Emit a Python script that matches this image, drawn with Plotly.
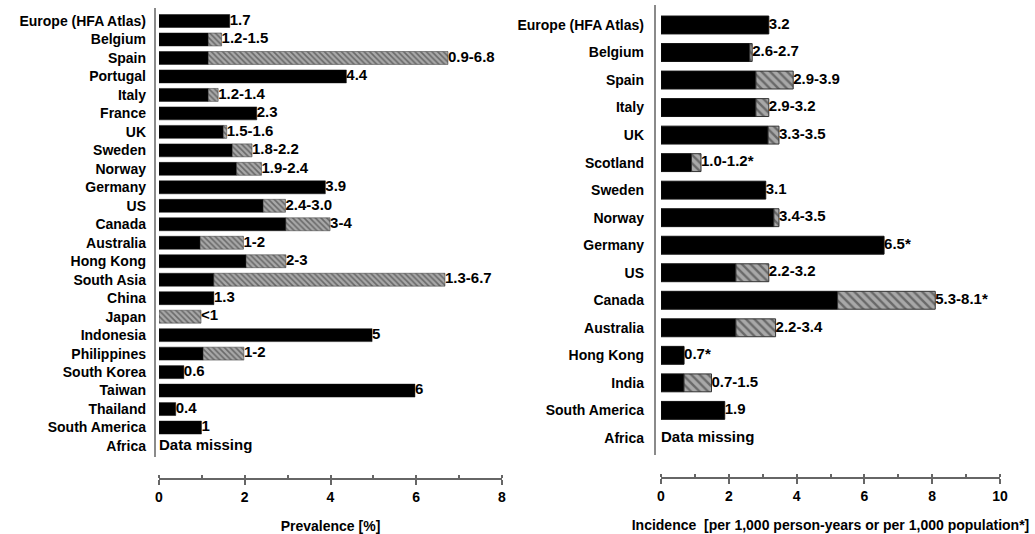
import plotly.graph_objects as go

# ---------------- data ----------------
prev_regions = ["Europe (HFA Atlas)", "Belgium", "Spain", "Portugal", "Italy", "France", "UK",
                "Sweden", "Norway", "Germany", "US", "Canada", "Australia", "Hong Kong",
                "South Asia", "China", "Japan", "Indonesia", "Philippines", "South Korea",
                "Taiwan", "Thailand", "South America", "Africa"]
prev_low = [1.65, 1.15, 1.15, 4.37, 1.15, 2.28, 1.5, 1.71, 1.81, 3.88, 2.43, 2.96, 0.96, 2.03,
            1.28, 1.28, 0.0, 4.97, 1.03, 0.58, 5.97, 0.39, 0.99, None]
prev_high = [1.65, 1.46, 6.74, 4.37, 1.38, 2.28, 1.58, 2.17, 2.39, 3.88, 2.95, 3.99, 1.97, 2.96,
             6.67, 1.28, 0.98, 4.97, 1.98, 0.58, 5.97, 0.39, 0.99, None]
prev_labels = ["1.7", "1.2-1.5", "0.9-6.8", "4.4", "1.2-1.4", "2.3", "1.5-1.6", "1.8-2.2",
               "1.9-2.4", "3.9", "2.4-3.0", "3-4", "1-2", "2-3", "1.3-6.7", "1.3", "<1", "5",
               "1-2", "0.6", "6", "0.4", "1", "Data missing"]

inc_regions = ["Europe (HFA Atlas)", "Belgium", "Spain", "Italy", "UK", "Scotland", "Sweden",
               "Norway", "Germany", "US", "Canada", "Australia", "Hong Kong", "India",
               "South America", "Africa"]
inc_low = [3.18, 2.62, 2.80, 2.80, 3.16, 0.90, 3.09, 3.33, 6.58, 2.21, 5.21, 2.21, 0.68, 0.68,
           1.88, None]
inc_high = [3.18, 2.69, 3.90, 3.18, 3.48, 1.18, 3.09, 3.48, 6.58, 3.18, 8.09, 3.38, 0.68, 1.49,
            1.88, None]
inc_labels = ["3.2", "2.6-2.7", "2.9-3.9", "2.9-3.2", "3.3-3.5", "1.0-1.2*", "3.1", "3.4-3.5",
              "6.5*", "2.2-3.2", "5.3-8.1*", "2.2-3.4", "0.7*", "0.7-1.5", "1.9", "Data missing"]

W, H = 1035, 534
FONT = "Liberation Sans"


def px_x(p):
    return p / W


def px_y(p):
    return 1 - p / H


fig = go.Figure()


def add_panel(regions, low, high, labels, xa, ya, width, psize, line_w):
    idx = list(range(len(regions)))
    lo = [v if (v is not None and v > 0) else None for v in low]
    base = [v if v is not None else 0 for v in low]
    rng = [(h - l) if (h is not None and l is not None and h - l > 0.001) else None
           for l, h in zip(low, high)]
    fig.add_trace(go.Bar(
        y=idx, x=lo, orientation="h", width=width, xaxis=xa, yaxis=ya,
        marker=dict(color="black", line=dict(color="#111", width=line_w)),
        showlegend=False, hoverinfo="skip"))
    fig.add_trace(go.Bar(
        y=idx, x=rng, base=base, orientation="h", width=width, xaxis=xa, yaxis=ya,
        marker=dict(color="#9a9a9a",
                    line=dict(color="#333", width=line_w),
                    pattern=dict(shape="\\", fgcolor="#2a2a2a", bgcolor="#a8a8a8",
                                 size=psize, solidity=0.4)),
        showlegend=False, hoverinfo="skip"))
    tx = [h if h is not None else 0 for h in high]
    fig.add_trace(go.Scatter(
        y=idx, x=tx, text=labels, mode="text", textposition="middle right",
        textfont=dict(family=FONT, size=15, color="black", weight="bold"),
        xaxis=xa, yaxis=ya, showlegend=False, hoverinfo="skip", cliponaxis=False))


add_panel(prev_regions, prev_low, prev_high, prev_labels, "x", "y", 0.70, 4, 0.5)
add_panel(inc_regions, inc_low, inc_high, inc_labels, "x2", "y2", 0.65, 6, 1)

tickfont = dict(family=FONT, size=14, color="black", weight="bold")
titlefont = dict(family=FONT, size=14, color="black", weight="bold")

xcommon = dict(showgrid=False, zeroline=False, showline=True, linecolor="#666", linewidth=1.5,
               ticks="outside", ticklen=5, tickwidth=1.5, tickcolor="#666", dtick=2,
               minor=dict(dtick=1, ticks="inside", ticklen=3, tickcolor="#666", tickwidth=1.5),
               tickfont=tickfont, fixedrange=True, automargin=False)
ycommon = dict(showgrid=False, zeroline=False, showline=False, ticks="",
               tickfont=tickfont, automargin=False, fixedrange=True)

fig.update_layout(
    width=W, height=H, margin=dict(l=0, r=0, t=0, b=0, autoexpand=False),
    paper_bgcolor="white", plot_bgcolor="white", barmode="overlay",
    xaxis=dict(domain=[px_x(159), px_x(502)], range=[0, 8], anchor="y",
               title=dict(text="Prevalence [%]", font=titlefont, standoff=18), **xcommon),
    yaxis=dict(domain=[px_y(478), px_y(5)], range=[24.73, -0.866], anchor="x",
               tickvals=list(range(len(prev_regions))), ticktext=prev_regions,
               ticklabelstandoff=12, **ycommon),
    xaxis2=dict(domain=[px_x(661), px_x(1000)], range=[0, 10], anchor="y2",
                title=dict(text="Incidence  [per 1,000 person-years or per 1,000 population*]",
                           font=titlefont, standoff=18), **xcommon),
    yaxis2=dict(domain=[px_y(477), px_y(5)], range=[16.42, -0.726], anchor="x2",
                tickvals=list(range(len(inc_regions))), ticktext=inc_regions,
                ticklabelstandoff=16, **ycommon),
    shapes=[
        dict(type="line", xref="paper", yref="paper", x0=px_x(155), x1=px_x(155),
             y0=px_y(457), y1=px_y(8), line=dict(color="#8a8a8a", width=2)),
        dict(type="line", xref="paper", yref="paper", x0=px_x(655), x1=px_x(655),
             y0=px_y(455), y1=px_y(5), line=dict(color="#8a8a8a", width=2)),
    ],
)

fig.write_html("out.html", config={"displayModeBar": False},
               post_script="document.body.style.margin='0';document.body.style.overflow='hidden';")
